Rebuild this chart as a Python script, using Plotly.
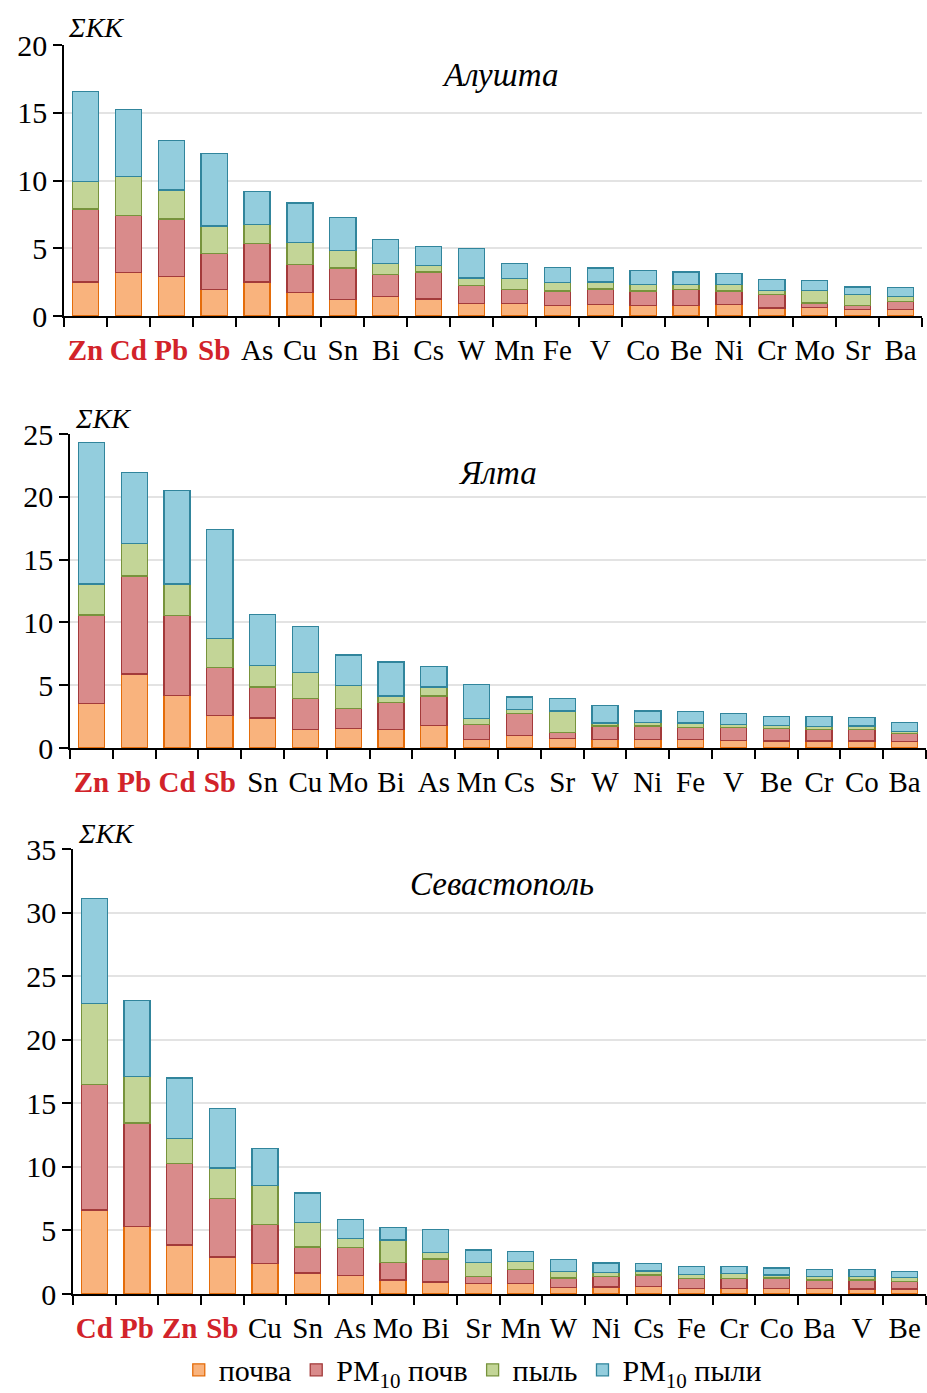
import plotly.graph_objects as go

# ---------------- data ----------------
series_names = ["почва", "PM<sub>10</sub> почв", "пыль", "PM<sub>10</sub> пыли"]

alushta_cats = ["Zn", "Cd", "Pb", "Sb", "As", "Cu", "Sn", "Bi", "Cs", "W",
                "Mn", "Fe", "V", "Co", "Be", "Ni", "Cr", "Mo", "Sr", "Ba"]
alushta_soil = [2.5, 3.2, 2.9, 1.95, 2.5, 1.75, 1.2, 1.45, 1.25, 0.9,
                0.9, 0.8, 0.85, 0.8, 0.75, 0.85, 0.6, 0.65, 0.5, 0.5]
alushta_pm_soil = [5.4, 4.2, 4.25, 2.65, 2.85, 2.05, 2.35, 1.6, 2.0, 1.35,
                   1.05, 1.05, 1.15, 1.05, 1.2, 1.0, 1.0, 0.3, 0.3, 0.55]
alushta_dust = [2.05, 2.9, 2.15, 2.05, 1.4, 1.65, 1.3, 0.85, 0.5, 0.55,
                0.8, 0.6, 0.5, 0.45, 0.35, 0.45, 0.3, 0.95, 0.8, 0.4]
alushta_pm_dust = [6.6, 4.95, 3.65, 5.35, 2.45, 2.9, 2.4, 1.75, 1.4, 2.2,
                   1.1, 1.15, 1.05, 1.05, 0.95, 0.85, 0.8, 0.7, 0.55, 0.65]

yalta_cats = ["Zn", "Pb", "Cd", "Sb", "Sn", "Cu", "Mo", "Bi", "As", "Mn",
              "Cs", "Sr", "W", "Ni", "Fe", "V", "Be", "Cr", "Co", "Ba"]
yalta_soil = [3.55, 5.9, 4.2, 2.6, 2.4, 1.5, 1.55, 1.45, 1.8, 0.7,
              1.0, 0.75, 0.7, 0.65, 0.65, 0.6, 0.55, 0.55, 0.55, 0.5]
yalta_pm_soil = [7.05, 7.8, 6.35, 3.8, 2.45, 2.45, 1.6, 2.15, 2.35, 1.15,
                 1.75, 0.5, 1.05, 1.1, 1.0, 1.05, 1.0, 0.9, 0.95, 0.65]
yalta_dust = [2.45, 2.6, 2.5, 2.3, 1.7, 2.05, 1.8, 0.55, 0.7, 0.5,
              0.3, 1.7, 0.25, 0.3, 0.35, 0.2, 0.25, 0.25, 0.25, 0.15]
yalta_pm_dust = [11.3, 5.65, 7.45, 8.7, 4.1, 3.65, 2.45, 2.7, 1.65, 2.7,
                 1.0, 1.0, 1.4, 0.9, 0.9, 0.9, 0.7, 0.8, 0.7, 0.75]

sev_cats = ["Cd", "Pb", "Zn", "Sb", "Cu", "Sn", "As", "Mo", "Bi", "Sr",
            "Mn", "W", "Ni", "Cs", "Fe", "Cr", "Co", "Ba", "V", "Be"]
sev_soil = [6.6, 5.3, 3.85, 2.9, 2.4, 1.65, 1.45, 1.1, 0.95, 0.8,
            0.85, 0.5, 0.55, 0.6, 0.45, 0.45, 0.45, 0.45, 0.4, 0.4]
sev_pm_soil = [9.9, 8.15, 6.4, 4.6, 3.05, 2.05, 2.2, 1.4, 1.8, 0.6,
               1.05, 0.75, 0.8, 0.9, 0.75, 0.75, 0.8, 0.65, 0.7, 0.6]
sev_dust = [6.35, 3.65, 2.0, 2.4, 3.1, 1.95, 0.7, 1.75, 0.5, 1.1,
            0.65, 0.5, 0.35, 0.3, 0.35, 0.4, 0.25, 0.3, 0.25, 0.3]
sev_pm_dust = [8.25, 6.0, 4.75, 4.7, 2.9, 2.3, 1.5, 1.0, 1.85, 0.95,
               0.8, 0.95, 0.75, 0.6, 0.6, 0.55, 0.55, 0.55, 0.55, 0.45]

highlight = ["Zn", "Cd", "Pb", "Sb"]
panel_titles = ["Алушта", "Ялта", "Севастополь"]
y_max = [20, 25, 35]

# ---------------- styles ----------------
fills = ["#F9B37D", "#D98B8B", "#C3D597", "#93CDDD"]
lines = ["#E46C0A", "#A33A3A", "#77933C", "#31859C"]
FONT = "Liberation Serif"
W, H = 927, 1393

panels = [
    (alushta_cats, [alushta_soil, alushta_pm_soil, alushta_dust, alushta_pm_dust]),
    (yalta_cats, [yalta_soil, yalta_pm_soil, yalta_dust, yalta_pm_dust]),
    (sev_cats, [sev_soil, sev_pm_soil, sev_dust, sev_pm_dust]),
]

# plot-area pixel boxes: (left, right, top, bottom)
boxes = [(64, 922, 45, 316), (70, 926, 434, 748), (73, 926, 849, 1294)]

fig = go.Figure()

for p, (cats, vals) in enumerate(panels):
    xa = "x" if p == 0 else f"x{p+1}"
    ya = "y" if p == 0 else f"y{p+1}"
    for s in range(4):
        fig.add_trace(go.Bar(
            x=cats, y=vals[s], name=series_names[s],
            marker=dict(color=fills[s], line=dict(color=lines[s], width=1.3)),
            xaxis=xa, yaxis=ya, legendgroup=str(s), showlegend=(p == 0),
        ))

layout = dict(
    width=W, height=H,
    margin=dict(l=0, r=0, t=0, b=0, autoexpand=False),
    paper_bgcolor="white", plot_bgcolor="white",
    barmode="stack", bargap=0.39,
    font=dict(family=FONT, size=28, color="black"),
    showlegend=True,
    legend=dict(orientation="h", x=0.51, xanchor="center", y=-0.002, yanchor="bottom",
                font=dict(size=30, family=FONT), traceorder="normal",
                tracegroupgap=0, bgcolor="rgba(0,0,0,0)"),
    annotations=[],
)

for p, (cats, vals) in enumerate(panels):
    l, r, t, b = boxes[p]
    xk = "xaxis" if p == 0 else f"xaxis{p+1}"
    yk = "yaxis" if p == 0 else f"yaxis{p+1}"
    yref = "y" if p == 0 else f"y{p+1}"
    xref = "x" if p == 0 else f"x{p+1}"
    ticktext = [f"<b><span style='color:#D2232A'>{c}</span></b>" if c in highlight and i < 4 else c
                for i, c in enumerate(cats)]
    layout[xk] = dict(
        domain=[l / W, r / W], anchor=yref,
        type="category", categoryorder="array", categoryarray=cats,
        tickmode="array", tickvals=cats, ticktext=ticktext, tickangle=0,
        tickson="boundaries", ticks="outside", ticklen=9, tickwidth=1.5, tickcolor="black",
        ticklabelstandoff=7,
        showline=True, linecolor="black", linewidth=1.5,
        showgrid=False, tickfont=dict(size=29, family=FONT, color="black"),
        fixedrange=True, automargin=False,
    )
    layout[yk] = dict(
        domain=[1 - b / H, 1 - t / H], anchor=xref,
        range=[0, y_max[p]], dtick=5, tick0=0,
        ticks="outside", ticklen=9, tickwidth=1.5, tickcolor="black",
        showline=True, linecolor="black", linewidth=1.5,
        showgrid=True, gridcolor="#E3E3E3", gridwidth=1.5,
        zeroline=False, tickfont=dict(size=30, family=FONT, color="black"),
        fixedrange=True, automargin=False,
    )

title_pos = [(500, 75), (498, 473), (502, 884)]
sigma_pos = [(66, 28), (73, 418), (76, 833)]
for p in range(3):
    tx, ty = title_pos[p]
    layout["annotations"].append(dict(
        text=f"<i>{panel_titles[p]}</i>", x=tx / W, y=1 - ty / H,
        xref="paper", yref="paper", xanchor="center", yanchor="middle",
        showarrow=False, font=dict(size=33, family=FONT, color="black")))
    sx, sy = sigma_pos[p]
    layout["annotations"].append(dict(
        text="<i>ΣКК</i>", x=sx / W, y=1 - sy / H,
        xref="paper", yref="paper", xanchor="left", yanchor="middle",
        showarrow=False, font=dict(size=28, family=FONT, color="black")))

fig.update_layout(**layout)
fig.write_html("out.html")
